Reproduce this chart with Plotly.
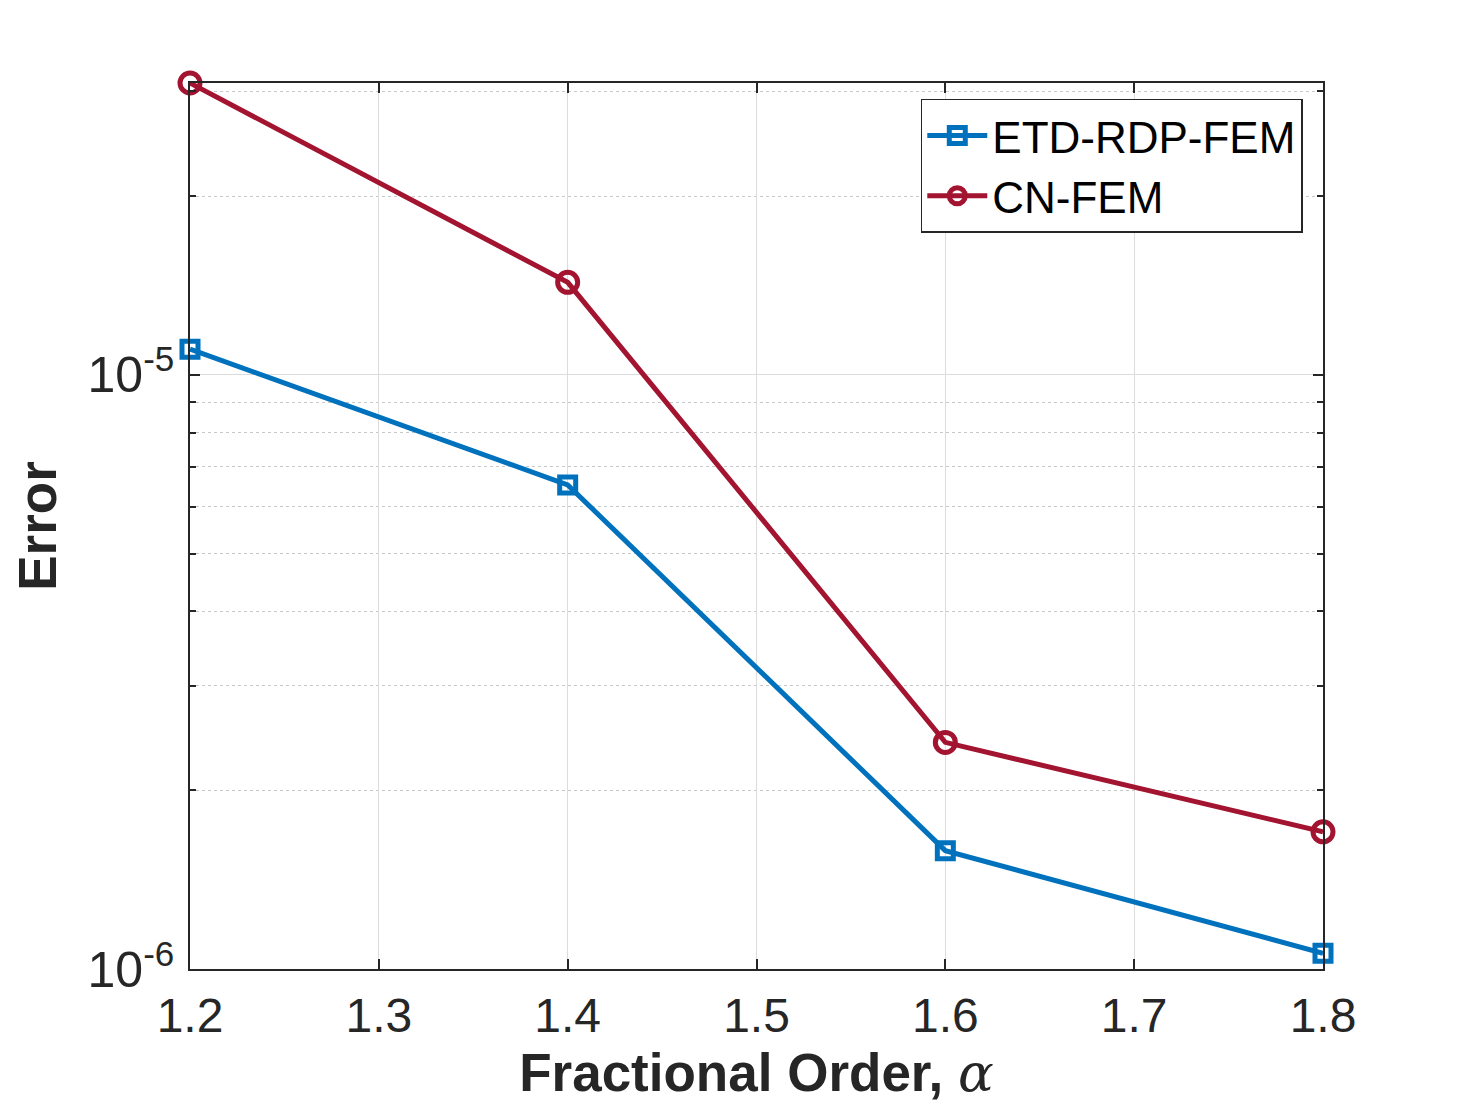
import plotly.graph_objects as go

# fractional order alpha
alpha = [1.2, 1.4, 1.6, 1.8]

# errors
err_etd = [1.105e-5, 6.53e-6, 1.582e-6, 1.063e-6]
err_cn = [3.10e-5, 1.432e-5, 2.407e-6, 1.702e-6]

x_ticks = [1.2, 1.3, 1.4, 1.5, 1.6, 1.7, 1.8]
y_ticks = [1e-6, 1e-5]
y_ticktext = ["10<sup>-6</sup>", "10<sup>-5</sup>"]
y_minor = [2e-6, 3e-6, 4e-6, 5e-6, 6e-6, 7e-6, 8e-6, 9e-6, 2e-5, 3e-5]

BLUE = "#0072BD"
RED = "#A2142F"
AX = "#262626"
FONT = "Liberation Sans, Arial, Helvetica, sans-serif"

fig = go.Figure()
fig.add_trace(go.Scatter(
    x=alpha, y=err_etd, name="ETD-RDP-FEM", mode="lines+markers", cliponaxis=False,
    line=dict(color=BLUE, width=5),
    marker=dict(symbol="square-open", size=16, color=BLUE, line=dict(width=5, color=BLUE)),
))
fig.add_trace(go.Scatter(
    x=alpha, y=err_cn, name="CN-FEM", mode="lines+markers", cliponaxis=False,
    line=dict(color=RED, width=5),
    marker=dict(symbol="circle-open", size=20, color=RED, line=dict(width=5, color=RED)),
))

# the page puts the figure 8px in from the window corner
fig.update_layout(
    width=1462, height=1110,
    margin=dict(l=182, r=147, t=75, b=149, autoexpand=False),
    paper_bgcolor="white", plot_bgcolor="white",
    font=dict(family=FONT, color=AX, size=48),
    showlegend=True,
    legend=dict(
        x=0.645, y=0.982, xanchor="left", yanchor="top",
        bgcolor="white", bordercolor=AX, borderwidth=1.5,
        font=dict(size=44, color="black", family=FONT),
        itemwidth=60, tracegroupgap=0,
    ),
)

fig.update_xaxes(
    range=[1.2, 1.8], tickvals=x_ticks, ticktext=[f"{v:.1f}" for v in x_ticks],
    ticks="inside", ticklen=10, tickwidth=1.5, tickcolor=AX,
    showline=True, linecolor=AX, linewidth=1.5, mirror="ticks",
    showgrid=True, gridcolor="#dcdcdc", gridwidth=1.2,
    zeroline=False, ticklabelstandoff=4, automargin=False,
    tickfont=dict(size=48, color=AX),
    title=dict(
        text="<b>Fractional Order,</b> <span style='font-family:DejaVu Serif'><i>α</i></span>",
        font=dict(size=53, color=AX), standoff=12,
    ),
)
fig.update_yaxes(
    type="log", range=[-6, -4.5086],
    tickvals=y_ticks, ticktext=y_ticktext,
    ticks="inside", ticklen=10, tickwidth=1.5, tickcolor=AX,
    showline=True, linecolor=AX, linewidth=1.5, mirror="ticks",
    showgrid=True, gridcolor="#dcdcdc", gridwidth=1.2,
    zeroline=False, ticklabelstandoff=4, automargin=False,
    tickfont=dict(size=50, color=AX),
    minor=dict(
        tickvals=y_minor, ticks="inside", ticklen=6, tickwidth=1.5, tickcolor=AX,
        showgrid=True, gridcolor="#c8c8c8", gridwidth=1.2, griddash="dot",
    ),
    title=dict(text="<b>Error</b>", font=dict(size=53, color=AX), standoff=15),
)

fig.write_html("out.html")
